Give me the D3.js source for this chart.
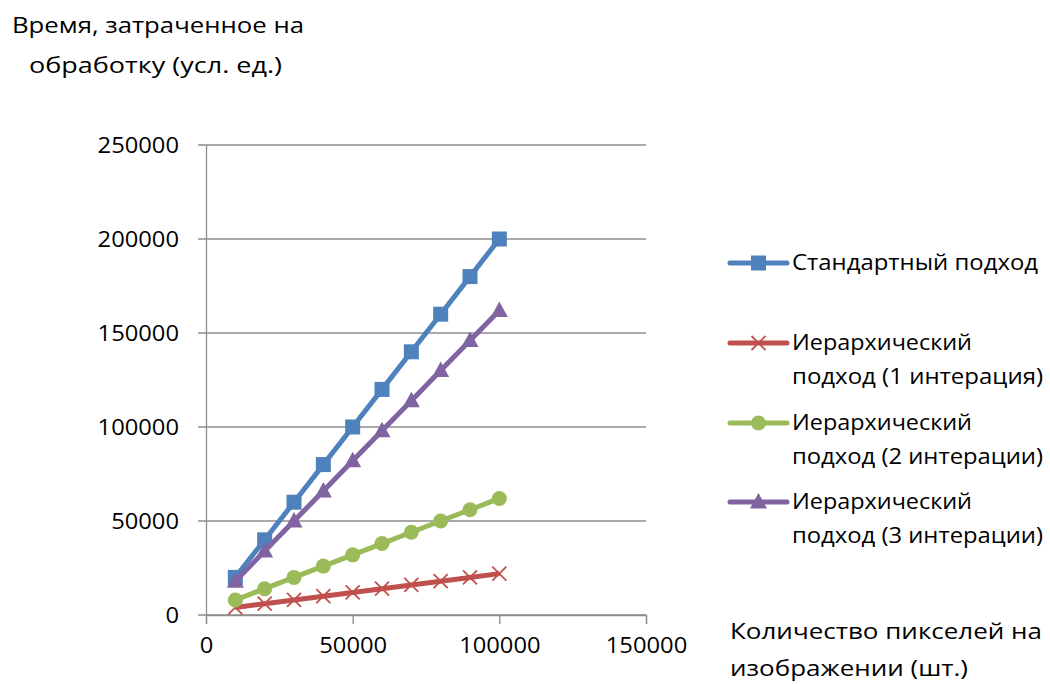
<!DOCTYPE html>
<html>
<head>
<meta charset="utf-8">
<script src="https://cdn.jsdelivr.net/npm/d3@7"></script>
<style>
  html, body { margin: 0; padding: 0; background: #fff; }
  svg { display: block; }
  text { font-family: "Open Sans", "Noto Sans", sans-serif; fill: #000; }
</style>
</head>
<body>
<svg id="chart" width="1050" height="684"></svg>
<script>
// Number of pixels in the image
const pixels = [10000, 20000, 30000, 40000, 50000, 60000, 70000, 80000, 90000, 100000];

// Processing time per approach (conventional units)
const standard = [20000, 40000, 60000, 80000, 100000, 120000, 140000, 160000, 180000, 200000];
const hier1 = [4000, 6000, 8000, 10000, 12000, 14000, 16000, 18000, 20000, 22000];
const hier2 = [8000, 14000, 20000, 26000, 32000, 38000, 44000, 50000, 56000, 62000];
const hier3 = [18000, 34000, 50000, 66000, 82000, 98000, 114000, 130000, 146000, 162000];

const seriesNames = [
  ["Стандартный подход"],
  ["Иерархический", "подход (1 интерация)"],
  ["Иерархический", "подход (2 интерации)"],
  ["Иерархический", "подход (3 интерации)"]
];
const seriesColors = ["#4F81BD", "#C0504D", "#9BBB59", "#8064A2"];
const seriesMarkers = ["square", "cross", "circle", "triangle"];
const seriesValues = [standard, hier1, hier2, hier3];

const xTicks = [0, 50000, 100000, 150000];
const yTicks = [0, 50000, 100000, 150000, 200000, 250000];

const yTitle = ["Время, затраченное на", "обработку (усл. ед.)"];
const xTitle = ["Количество пикселей на", "изображении (шт.)"];

// Rendered widths of the wide, loosely spaced label lines
const yTitleWidths = [292, 253];
const xTitleWidths = [312, 238];
const legendWidths = [[246], [180, 251], [180, 251], [180, 251]];

const svg = d3.select("#chart");

const x = d3.scaleLinear().domain([0, 150000]).range([206, 646]);
const y = d3.scaleLinear().domain([0, 250000]).range([615, 145]);

// Stretch a text element horizontally by a factor
function widen(sel, k) {
  sel.each(function () {
    const w = this.getComputedTextLength();
    d3.select(this).attr("textLength", w * k).attr("lengthAdjust", "spacingAndGlyphs");
  });
}

// Horizontal gridlines
svg.append("g")
  .selectAll("line")
  .data(yTicks)
  .join("line")
  .attr("x1", x(0) - 8).attr("x2", x(150000))
  .attr("y1", d => y(d)).attr("y2", d => y(d))
  .attr("stroke", "#8c8c8c").attr("stroke-width", 1.3);

// Y axis
const yAxis = svg.append("g")
  .attr("transform", `translate(${x(0)},0)`)
  .call(d3.axisLeft(y).tickValues(yTicks).tickSize(0).tickPadding(27).tickFormat(d3.format("d")));
yAxis.select(".domain").attr("stroke", "#8c8c8c").attr("stroke-width", 1.3);
yAxis.selectAll("text").style("font-size", "21px").attr("font-family", null).attr("dy", "0.35em")
  .call(widen, 1.13);

// X axis
const xAxis = svg.append("g")
  .attr("transform", `translate(0,${y(0)})`)
  .call(d3.axisBottom(x).tickValues(xTicks).tickSize(9).tickPadding(14).tickFormat(d3.format("d")));
xAxis.select(".domain").attr("stroke", "#8c8c8c").attr("stroke-width", 1.3);
xAxis.selectAll(".tick line").attr("stroke", "#8c8c8c").attr("stroke-width", 1.3);
xAxis.selectAll("text").style("font-size", "21px").attr("font-family", null)
  .call(widen, 1.13);

// Marker drawing helper
function drawMarker(g, type, color, cx, cy) {
  if (type === "square") {
    g.append("rect").attr("x", cx - 7.5).attr("y", cy - 7.5)
      .attr("width", 15).attr("height", 15).attr("fill", color);
  } else if (type === "circle") {
    g.append("circle").attr("cx", cx).attr("cy", cy).attr("r", 7.5).attr("fill", color);
  } else if (type === "triangle") {
    g.append("path")
      .attr("d", `M${cx},${cy - 9}L${cx + 8.5},${cy + 6.5}L${cx - 8.5},${cy + 6.5}Z`)
      .attr("fill", color);
  } else if (type === "cross") {
    g.append("path")
      .attr("d", `M${cx - 7},${cy - 7}L${cx + 7},${cy + 7}M${cx - 7},${cy + 7}L${cx + 7},${cy - 7}`)
      .attr("stroke", color).attr("stroke-width", 1.8).attr("fill", "none");
  }
}

const line = d3.line().x(d => x(d[0])).y(d => y(d[1]));

// Series lines and markers
seriesValues.forEach((vals, i) => {
  const pts = pixels.map((p, k) => [p, vals[k]]);
  const g = svg.append("g");
  g.append("path").datum(pts)
    .attr("d", line)
    .attr("fill", "none")
    .attr("stroke", seriesColors[i])
    .attr("stroke-width", 5)
    .attr("stroke-linejoin", "round");
  pts.forEach(p => drawMarker(g, seriesMarkers[i], seriesColors[i], x(p[0]), y(p[1])));
});

// Legend
const legendY = [263, 343, 423, 502];
const legend = svg.append("g");
seriesNames.forEach((lines, i) => {
  const ly = legendY[i];
  legend.append("line")
    .attr("x1", 730).attr("x2", 787).attr("y1", ly).attr("y2", ly)
    .attr("stroke", seriesColors[i]).attr("stroke-width", 5).attr("stroke-linecap", "round");
  drawMarker(legend, seriesMarkers[i], seriesColors[i], 758.5, ly);
  lines.forEach((t, j) => {
    legend.append("text")
      .attr("x", 792).attr("y", ly + j * 34).attr("dy", "0.35em")
      .attr("textLength", legendWidths[i][j]).attr("lengthAdjust", "spacingAndGlyphs")
      .style("font-size", "21px")
      .text(t);
  });
});

// Axis titles
svg.append("g").selectAll("text").data(yTitle).join("text")
  .attr("x", (d, i) => i === 0 ? 12 : 29)
  .attr("y", (d, i) => 26 + i * 40).attr("dy", "0.35em")
  .attr("textLength", (d, i) => yTitleWidths[i]).attr("lengthAdjust", "spacingAndGlyphs")
  .style("font-size", "21px")
  .text(d => d);

svg.append("g").selectAll("text").data(xTitle).join("text")
  .attr("x", 730).attr("y", (d, i) => 632 + i * 37).attr("dy", "0.35em")
  .attr("textLength", (d, i) => xTitleWidths[i]).attr("lengthAdjust", "spacingAndGlyphs")
  .style("font-size", "21px")
  .text(d => d);
</script>
</body>
</html>
